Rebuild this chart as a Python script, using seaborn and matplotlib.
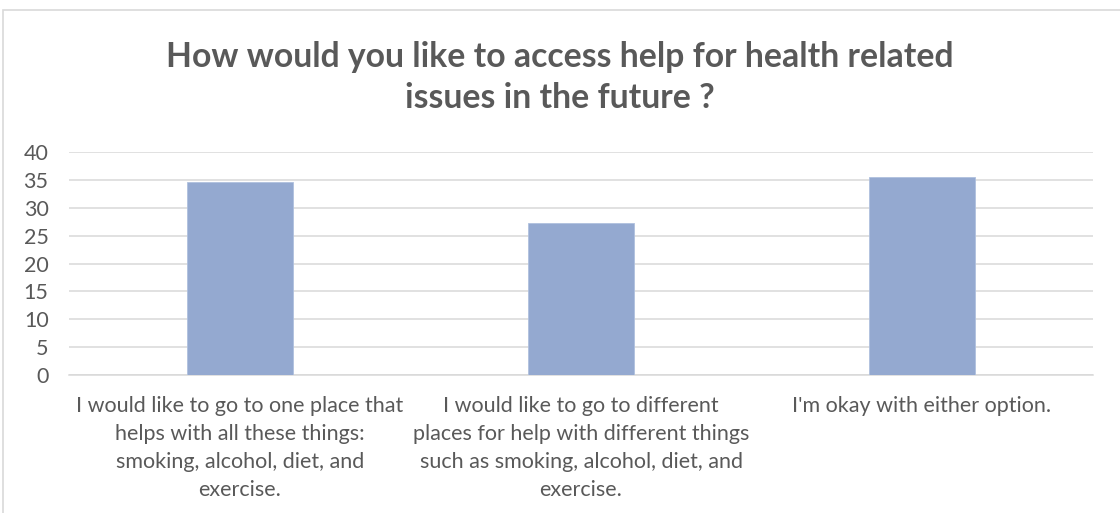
import matplotlib
matplotlib.use('Agg')
import matplotlib.pyplot as plt
import seaborn as sns
import pandas as pd
from matplotlib.patches import Rectangle

# data
categories = [
    "I would like to go to one place that\nhelps with all these things:\nsmoking, alcohol, diet, and\nexercise.",
    "I would like to go to different\nplaces for help with different things\nsuch as smoking, alcohol, diet, and\nexercise.",
    "I'm okay with either option.",
]
values = [34.7, 27.2, 35.6]
yticks = [0, 5, 10, 15, 20, 25, 30, 35, 40]
title = "How would you like to access help for health related\nissues in the future ?"

sns.set_theme(style="white")
plt.rcParams['font.family'] = ['Lato', 'DejaVu Sans']

df = pd.DataFrame({'answer': categories, 'count': values})

fig = plt.figure(figsize=(11.2, 5.13), dpi=100)
ax = fig.add_axes([0.062, 0.269, 0.9135, 0.4347])

# chart border (cropped on right / bottom like the reference)
fig.patches.append(Rectangle((3 / 1120, -0.1), 1.2, 1 - 10 / 513 + 0.1, transform=fig.transFigure,
                             fill=False, edgecolor='#D9D9D9', linewidth=1.2))

sns.barplot(data=df, x='answer', y='count', order=categories, color='#94A9D0',
            width=0.313, edgecolor='#AFC0DE', linewidth=0.6, ax=ax, zorder=3, saturation=1)

ax.set_ylim(0, 40)
ax.set_xlim(-0.5, 2.5)
ax.set_yticks(yticks)
ax.yaxis.grid(True, color='#D9D9D9', linewidth=1.1, zorder=0)
for s in ['top', 'right', 'left']:
    ax.spines[s].set_visible(False)
ax.spines['bottom'].set_color('#D9D9D9')
ax.spines['bottom'].set_linewidth(1.1)
ax.tick_params(axis='both', length=0, labelsize=15.5, colors='#595959')
ax.tick_params(axis='y', pad=15)
ax.tick_params(axis='x', pad=15)
for lab in ax.get_xticklabels():
    lab.set_linespacing(1.5)
ax.set_xlabel('')
ax.set_ylabel('')

fig.text(0.5, 1 - 77.5 / 513, title, ha='center', va='center', fontsize=24.3,
         fontweight='bold', color='#595959', linespacing=1.33)

plt.savefig('out.png', dpi=100)
